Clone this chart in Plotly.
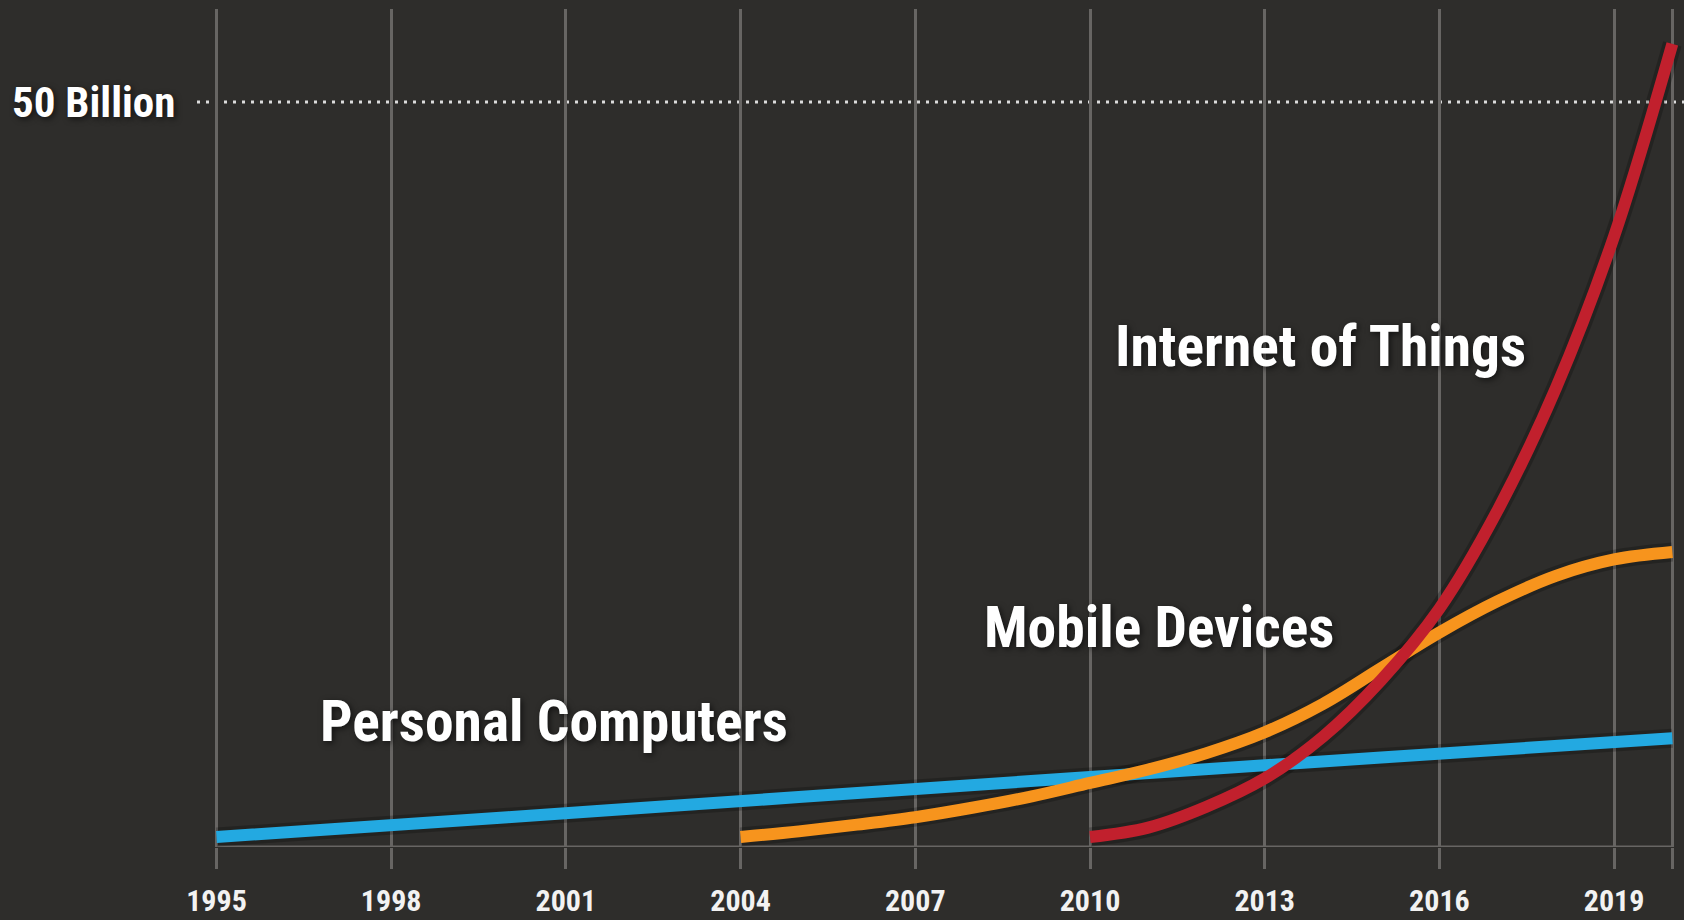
import plotly.graph_objects as go

# ---- data (billions of connected devices) ----
pc_years = [1995, 2000, 2005, 2010, 2015, 2020]
pc_values = [0.67, 2.0, 3.35, 4.7, 6.0, 7.3]

mobile_years = [2004, 2005, 2006, 2007, 2008, 2009, 2010, 2011, 2012, 2013,
                2014, 2015, 2016, 2017, 2018, 2019, 2020]
mobile_values = [0.67, 1.05, 1.5, 2.0, 2.65, 3.4, 4.3, 5.2, 6.3, 7.7,
                 9.6, 12.0, 14.4, 16.5, 18.2, 19.3, 19.8]

iot_years = [2010, 2011, 2012, 2013, 2014, 2015, 2016, 2017, 2018, 2019, 2020]
iot_values = [0.67, 1.3, 2.7, 4.6, 7.4, 11.2, 16.0, 22.6, 30.8, 41.0, 53.9]

tick_years = [1995, 1998, 2001, 2004, 2007, 2010, 2013, 2016, 2019, 2020]
tick_labels = ["1995", "1998", "2001", "2004", "2007", "2010", "2013", "2016", "2019", ""]

ref_value = 50
ref_label = "50 Billion"

series = [
    ("Personal Computers", pc_years, pc_values, "#23a9e1", 1996.75, 8.4),
    ("Mobile Devices", mobile_years, mobile_values, "#f7941d", 2008.15, 14.7),
    ("Internet of Things", iot_years, iot_values, "#c1202d", 2010.4, 33.6),
]

FONT = "Roboto Condensed, Open Sans Condensed, Liberation Sans Narrow, sans-serif"
BG = "#2e2d2b"
GRID = "#676563"
SHADOW = "2px 2px 6px rgba(0,0,0,0.6)"

fig = go.Figure()

# soft shadows under the lines
for name, xs, ys, col, lx, ly in series:
    fig.add_trace(go.Scatter(x=xs, y=ys, mode="lines",
                             line=dict(color="rgba(0,0,0,0.22)", width=19, shape="spline"),
                             hoverinfo="skip", showlegend=False))
for name, xs, ys, col, lx, ly in series:
    fig.add_trace(go.Scatter(x=xs, y=ys, mode="lines", name=name,
                             line=dict(color=col, width=12, shape="spline"),
                             showlegend=False))

annotations = []
for name, xs, ys, col, lx, ly in series:
    annotations.append(dict(x=lx, y=ly, xref="x", yref="y", text=name,
                            showarrow=False, xanchor="left", yanchor="middle",
                            font=dict(family=FONT, size=57.5, color="#ffffff", weight="bold",
                                      shadow=SHADOW)))

L = 199
W = 1684 - L
annotations.append(dict(x=(10 - L) / W, y=ref_value, xref="paper", yref="y", text=ref_label,
                        showarrow=False, xanchor="left", yanchor="middle",
                        font=dict(family=FONT, size=43, color="#ffffff", weight="bold",
                                  shadow=SHADOW)))

shapes = [
    dict(type="line", xref="paper", yref="y", x0=(197 - L) / W, x1=1.0,
         y0=ref_value, y1=ref_value, line=dict(color="#dcdcdc", width=3, dash="3px,6px"),
         layer="below"),
    dict(type="line", xref="x", yref="y", x0=1995, x1=2020, y0=0, y1=0,
         line=dict(color=GRID, width=3), layer="below"),
]

fig.update_layout(
    width=1684, height=920,
    margin=dict(l=L, r=0, t=9, b=73),
    paper_bgcolor=BG, plot_bgcolor=BG,
    showlegend=False,
    annotations=annotations,
    shapes=shapes,
    xaxis=dict(range=[1994.7, 2020.2], tickmode="array", tickvals=tick_years,
               ticktext=tick_labels, showgrid=True, gridcolor=GRID, gridwidth=2.5,
               zeroline=False, showline=False, ticks="outside", ticklen=21,
               tickwidth=2.5, tickcolor=GRID, ticklabelstandoff=6,
               tickfont=dict(family=FONT, size=30, color="#f2f2f2", weight="bold")),
    yaxis=dict(range=[0, 56.24], showgrid=False, zeroline=False, showline=False,
               showticklabels=False, ticks=""),
)

fig.write_html("out.html")
